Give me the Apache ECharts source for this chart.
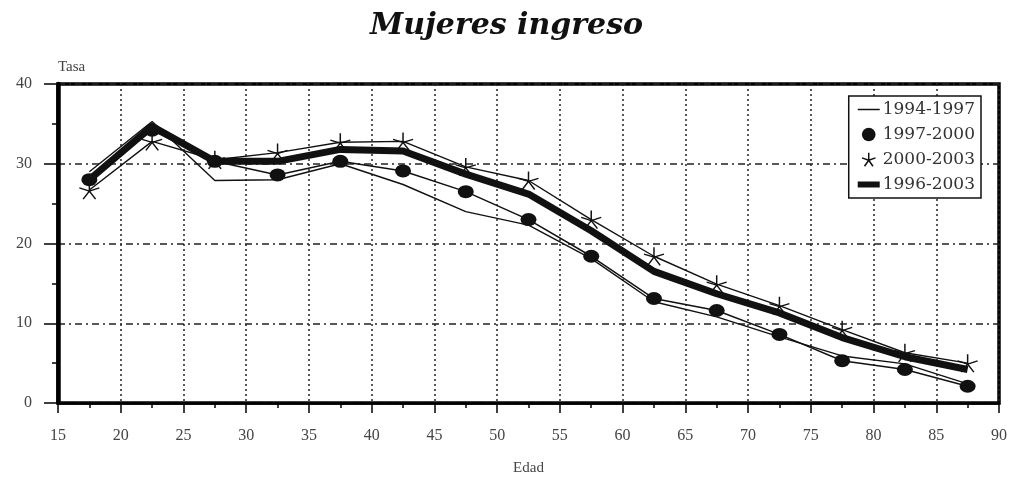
<!DOCTYPE html>
<html>
<head>
<meta charset="utf-8">
<script src="https://cdn.jsdelivr.net/npm/echarts@6/dist/echarts.min.js"></script>
<style>
  html, body { margin: 0; padding: 0; background: #fff; }
  #chart { width: 1013px; height: 481px; }
</style>
</head>
<body>
<div id="chart"></div>
<script>
// Age-group midpoints (Edad)
const ages = [17.5, 22.5, 27.5, 32.5, 37.5, 42.5, 47.5, 52.5, 57.5, 62.5, 67.5, 72.5, 77.5, 82.5, 87.5];

// Rates (Tasa) per period
const serieNames = ['1994-1997', '1997-2000', '2000-2003', '1996-2003'];
const tasa9497 = [29.0, 35.3, 27.9, 28.0, 30.0, 27.4, 24.0, 22.3, 18.1, 12.7, 10.8, 8.3, 5.9, 4.9, 2.4];
const tasa9700 = [28.0, 34.2, 30.3, 28.6, 30.3, 29.1, 26.5, 23.0, 18.4, 13.1, 11.6, 8.6, 5.3, 4.2, 2.1];
const tasa0003 = [26.7, 32.8, 30.5, 31.4, 32.7, 32.8, 29.6, 27.9, 23.0, 18.4, 14.9, 12.2, 9.2, 6.3, 5.0];
const tasa9603 = [28.0, 34.7, 30.3, 30.3, 31.8, 31.6, 28.7, 26.2, 21.6, 16.5, 13.7, 11.3, 8.2, 5.8, 4.2];

const pairs = vals => ages.map((a, i) => [a, vals[i]]);

const INK = '#111';
const FONT = 'DejaVu Serif';
const AXIS_FONT = 'Liberation Serif';
// five-spoke asterisk marker
const STAR = 'path://M10,0L10,10M0.5,6.9L10,10M19.5,6.9L10,10M4.1,18.1L10,10M15.9,18.1L10,10';

const chart = echarts.init(document.getElementById('chart'));
chart.setOption({
  animation: false,
  backgroundColor: '#fff',
  title: {
    text: 'Mujeres ingreso',
    left: 'center',
    top: 6,
    textStyle: { fontFamily: FONT, fontSize: 30, fontWeight: 'bold', fontStyle: 'italic', color: '#111' }
  },
  grid: {
    left: 58, right: 14, top: 84, bottom: 70,
    show: true, borderColor: '#000', borderWidth: 3.5, backgroundColor: 'transparent'
  },
  legend: {
    orient: 'vertical',
    right: 32, top: 96,
    itemWidth: 22, itemHeight: 17, itemGap: 8,
    padding: [5, 6, 5, 6],
    borderColor: '#111', borderWidth: 1.5,
    backgroundColor: '#fff',
    textStyle: { fontFamily: FONT, fontSize: 17, color: '#333', padding: [0, 0, 0, -2] },
    data: [
      { name: serieNames[0], itemStyle: { opacity: 0 }, lineStyle: { width: 1.5, color: INK } },
      { name: serieNames[1], itemStyle: { color: INK }, lineStyle: { opacity: 0 } },
      { name: serieNames[2], itemStyle: { color: 'transparent', borderColor: INK, borderWidth: 1.5 }, lineStyle: { opacity: 0 } },
      { name: serieNames[3], itemStyle: { opacity: 0 }, lineStyle: { width: 6, color: INK } }
    ]
  },
  xAxis: {
    type: 'value',
    min: 15, max: 90, interval: 5,
    name: 'Edad',
    nameLocation: 'middle',
    nameGap: 58,
    nameTextStyle: { fontFamily: AXIS_FONT, fontSize: 15, color: '#444' },
    axisLine: { lineStyle: { color: '#000', width: 2.5 } },
    axisTick: { length: 10, lineStyle: { color: '#000', width: 1.5 } },
    minorTick: { show: true, splitNumber: 2, length: 5, lineStyle: { color: '#000', width: 1.5 } },
    axisLabel: { fontFamily: AXIS_FONT, fontSize: 16, color: '#444', margin: 25 },
    splitLine: { show: true, lineStyle: { color: '#222', width: 1.5, type: [2, 3] } }
  },
  yAxis: {
    type: 'value',
    min: 0, max: 40, interval: 10,
    name: 'Tasa',
    nameLocation: 'end',
    nameGap: 9,
    nameTextStyle: { fontFamily: AXIS_FONT, fontSize: 15, color: '#444', align: 'left' },
    axisLine: { show: true, lineStyle: { color: '#000', width: 4.5 } },
    axisTick: { show: true, length: 14, lineStyle: { color: '#000', width: 1.5 } },
    minorTick: { show: true, splitNumber: 2, length: 6, lineStyle: { color: '#000', width: 1.5 } },
    axisLabel: { fontFamily: AXIS_FONT, fontSize: 16, color: '#444', margin: 26 },
    splitLine: { show: true, lineStyle: { color: '#222', width: 1.5, type: [7, 4, 2, 4] } }
  },
  series: [
    {
      name: serieNames[3], type: 'line', data: pairs(tasa9603), z: 2,
      symbol: 'none',
      lineStyle: { color: INK, width: 7, join: 'round' },
      itemStyle: { color: INK }
    },
    {
      name: serieNames[0], type: 'line', data: pairs(tasa9497), z: 3,
      symbol: 'none',
      lineStyle: { color: INK, width: 1.4 },
      itemStyle: { color: INK }
    },
    {
      name: serieNames[1], type: 'line', data: pairs(tasa9700), z: 4,
      symbol: 'circle', symbolSize: [16, 13],
      lineStyle: { color: INK, width: 1.5 },
      itemStyle: { color: INK }
    },
    {
      name: serieNames[2], type: 'line', data: pairs(tasa0003), z: 5,
      symbol: STAR, symbolSize: [20, 18], symbolKeepAspect: false,
      lineStyle: { color: INK, width: 1.4 },
      itemStyle: { color: 'transparent', borderColor: INK, borderWidth: 1.4 }
    }
  ]
});
</script>
</body>
</html>
